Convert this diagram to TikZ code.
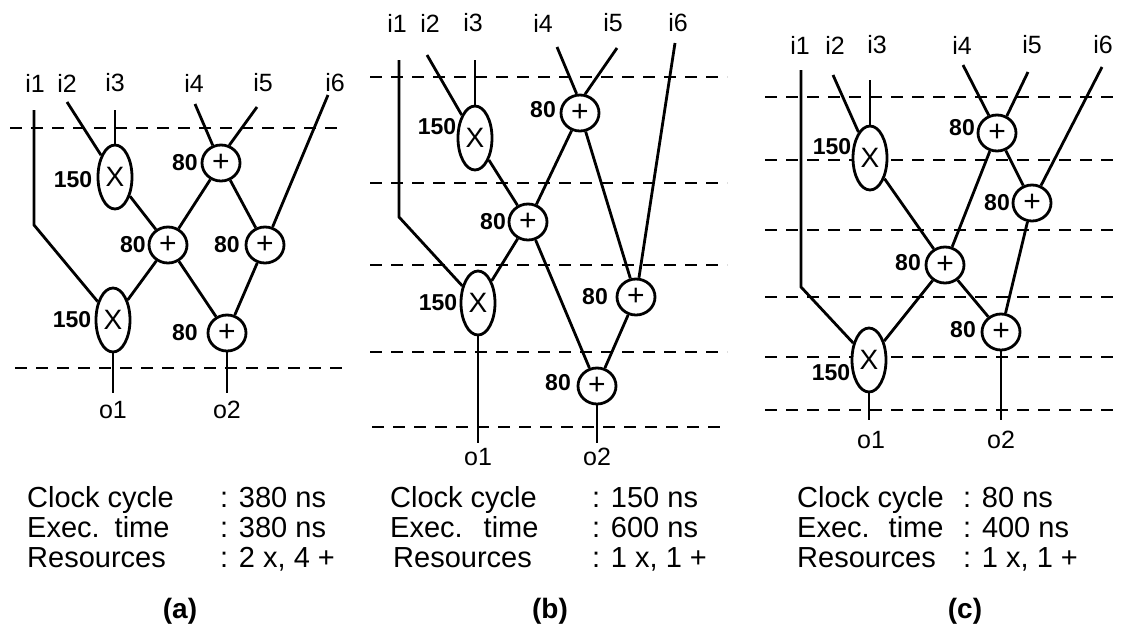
\documentclass[tikz,border=0pt]{standalone}
\usepackage{fontspec}
\setmainfont{Liberation Sans}
\usetikzlibrary{shapes.geometric}

\tikzset{
  mulop/.style={draw, fill=white, ellipse, line width=2.8pt, minimum width=34pt, minimum height=64pt, inner sep=0pt, font=\fontsize{28}{28}\selectfont},
  addop/.style={draw, fill=white, ellipse, line width=2.8pt, minimum width=38pt, minimum height=36pt, inner sep=0pt, font=\fontsize{30}{30}\selectfont},
  wire/.style={line width=2.8pt},
  clockline/.style={line width=2.8pt, dash pattern=on 12pt off 9pt},
  delay/.style={inner sep=0pt, font=\bfseries\fontsize{23}{23}\selectfont},
  port/.style={inner sep=0pt, font=\fontsize{25}{25}\selectfont},
  info/.style={anchor=base west, inner sep=0pt, font=\fontsize{29}{29}\selectfont},
  caption/.style={anchor=base, inner sep=0pt, font=\bfseries\fontsize{28}{28}\selectfont}
}

\begin{document}
\begin{tikzpicture}[x=1pt, y=-1pt, every node/.style={font=\fontsize{25}{25}\selectfont}]
    \useasboundingbox[fill=white] (0,0) rectangle (1121,632);

    % (a)
    \draw[clockline] (10,128) -- (343,128);
    \draw[clockline] (15,368) -- (343,368);
    \node[port] (ai1) at (35,83) {i1};
    \node[port] (ai2) at (67,83) {i2};
    \node[port] (ai3) at (115,83) {i3};
    \node[port] (ai4) at (194,83) {i4};
    \node[port] (ai5) at (263,83) {i5};
    \node[port] (ai6) at (335,83) {i6};
    \coordinate (ai1s) at (34,110);
    \coordinate (ai1k) at (34,225);
    \coordinate (ai2s) at (67,102);
    \coordinate (ai3s) at (115,110);
    \coordinate (ai4s) at (195,104);
    \coordinate (ai5s) at (257,107);
    \coordinate (ai6s) at (328,95);
    \node[mulop] (ax1) at (115,177) {X};
    \node[addop] (aa1) at (221,163) {+};
    \node[addop] (aa2) at (168,245) {+};
    \node[addop] (aa3) at (265,245) {+};
    \node[mulop] (ax2) at (113,320) {X};
    \node[addop] (aa4) at (227,333) {+};
    \node[delay] (ax1d) at (73,180) {150};
    \node[delay] (aa1d) at (185,163) {80};
    \node[delay] (aa2d) at (133,245) {80};
    \node[delay] (aa3d) at (227,245) {80};
    \node[delay] (ax2d) at (72,320) {150};
    \node[delay] (aa4d) at (185,333) {80};
    \coordinate (ao1e) at (113,393);
    \coordinate (ao2e) at (227,393);
    \node[port] (ao1) at (113,410) {o1};
    \node[port] (ao2) at (227,410) {o2};
    \draw[wire] (ai1s) -- (ai1k) -- (ax2);
    \draw[wire] (ai2s) -- (ax1);
    \draw[wire] (ai3s) -- (ax1.north);
    \draw[wire] (ai4s) -- (aa1.115);
    \draw[wire] (ai5s) -- (aa1.65);
    \draw[wire] (ai6s) -- (aa3);
    \draw[wire] (ax1) -- (aa2);
    \draw[wire] (aa1) -- (aa2);
    \draw[wire] (aa1) -- (aa3);
    \draw[wire] (aa2) -- (ax2);
    \draw[wire] (aa2) -- (aa4);
    \draw[wire] (aa3) -- (aa4);
    \draw[wire] (ax2.south) -- (ao1e);
    \draw[wire] (aa4.south) -- (ao2e);
    \node[info] (ar1) at (27,507) {\makebox[193pt][l]{Clock cycle}: 380 ns};
    \node[info] (ar2) at (27,537) {\makebox[193pt][l]{Exec.\hspace{15pt}time}: 380 ns};
    \node[info] (ar3) at (27,567) {\makebox[193pt][l]{Resources}: 2 x, 4 +};
    \node[caption] (acap) at (180,618) {(a)};

    % (b)
    \draw[clockline] (370,77) -- (727,77);
    \draw[clockline] (370,183) -- (727,183);
    \draw[clockline] (370,265) -- (727,265);
    \draw[clockline] (370,352) -- (727,352);
    \draw[clockline] (372,427) -- (727,427);
    \node[port] (bi1) at (397,23) {i1};
    \node[port] (bi2) at (430,23) {i2};
    \node[port] (bi3) at (473,23) {i3};
    \node[port] (bi4) at (543,23) {i4};
    \node[port] (bi5) at (613,23) {i5};
    \node[port] (bi6) at (678,23) {i6};
    \coordinate (bi1s) at (399,60);
    \coordinate (bi1k) at (399,217);
    \coordinate (bi2s) at (427,55);
    \coordinate (bi3s) at (475,60);
    \coordinate (bi4s) at (557,47);
    \coordinate (bi5s) at (617,48);
    \coordinate (bi6s) at (675,43);
    \node[mulop] (bx1) at (475,138) {X};
    \node[addop] (ba1) at (580,113) {+};
    \node[addop] (ba2) at (528,222) {+};
    \node[mulop] (bx2) at (478,303) {X};
    \node[addop] (ba3) at (636,297) {+};
    \node[addop] (ba4) at (597,386) {+};
    \node[delay] (bx1d) at (437,127) {150};
    \node[delay] (ba1d) at (543,110) {80};
    \node[delay] (ba2d) at (493,222) {80};
    \node[delay] (bx2d) at (438,303) {150};
    \node[delay] (ba3d) at (595,297) {80};
    \node[delay] (ba4d) at (558,383) {80};
    \coordinate (bo1e) at (478,443);
    \coordinate (bo2e) at (597,443);
    \node[port] (bo1) at (478,457) {o1};
    \node[port] (bo2) at (597,457) {o2};
    \draw[wire] (bi1s) -- (bi1k) -- (bx2);
    \draw[wire] (bi2s) -- (bx1);
    \draw[wire] (bi3s) -- (bx1.north);
    \draw[wire] (bi4s) -- (ba1.100);
    \draw[wire] (bi5s) -- (ba1.75);
    \draw[wire] (bi6s) -- (ba3);
    \draw[wire] (bx1) -- (ba2);
    \draw[wire] (ba1) -- (ba2);
    \draw[wire] (ba1) -- (ba3);
    \draw[wire] (ba2) -- (bx2);
    \draw[wire] (ba2) -- (ba4);
    \draw[wire] (ba3) -- (ba4);
    \draw[wire] (bx2.south) -- (bo1e);
    \draw[wire] (ba4.south) -- (bo2e);
    \node[info] (br1) at (390,507) {\makebox[202pt][l]{Clock cycle}: 150 ns};
    \node[info] (br2) at (390,537) {\makebox[202pt][l]{Exec.\hspace{21pt}time}: 600 ns};
    \node[info] (br3) at (393,567) {\makebox[199pt][l]{Resources}: 1 x, 1 +};
    \node[caption] (bcap) at (550,618) {(b)};

    % (c)
    \draw[clockline] (765,97) -- (1121,97);
    \draw[clockline] (765,160) -- (1121,160);
    \draw[clockline] (765,230) -- (1121,230);
    \draw[clockline] (765,297) -- (1121,297);
    \draw[clockline] (765,357) -- (1121,357);
    \draw[clockline] (765,410) -- (1121,410);
    \node[port] (ci1) at (800,45) {i1};
    \node[port] (ci2) at (835,45) {i2};
    \node[port] (ci3) at (877,45) {i3};
    \node[port] (ci4) at (962,45) {i4};
    \node[port] (ci5) at (1032,45) {i5};
    \node[port] (ci6) at (1103,45) {i6};
    \coordinate (ci1s) at (801,70);
    \coordinate (ci1k) at (801,287);
    \coordinate (ci2s) at (833,75);
    \coordinate (ci3s) at (870,80);
    \coordinate (ci4s) at (963,65);
    \coordinate (ci5s) at (1028,72);
    \coordinate (ci6s) at (1102,67);
    \node[mulop] (cx1) at (870,158) {X};
    \node[addop] (ca1) at (997,133) {+};
    \node[addop] (ca3) at (1032,203) {+};
    \node[addop] (ca2) at (945,265) {+};
    \node[addop] (ca4) at (1001,332) {+};
    \node[mulop] (cx2) at (869,360) {X};
    \node[delay] (cx1d) at (832,147) {150};
    \node[delay] (ca1d) at (962,128) {80};
    \node[delay] (ca3d) at (997,203) {80};
    \node[delay] (ca2d) at (908,263) {80};
    \node[delay] (ca4d) at (963,330) {80};
    \node[delay] (cx2d) at (831,373) {150};
    \coordinate (co1e) at (869,420);
    \coordinate (co2e) at (1001,420);
    \node[port] (co1) at (871,440) {o1};
    \node[port] (co2) at (1001,440) {o2};
    \draw[wire] (ci1s) -- (ci1k) -- (cx2);
    \draw[wire] (ci2s) -- (cx1);
    \draw[wire] (ci3s) -- (cx1.north);
    \draw[wire] (ci4s) -- (ca1.115);
    \draw[wire] (ci5s) -- (ca1.60);
    \draw[wire] (ci6s) -- (ca3);
    \draw[wire] (cx1) -- (ca2);
    \draw[wire] (ca1) -- (ca2);
    \draw[wire] (ca1) -- (ca3);
    \draw[wire] (ca3) -- (ca4);
    \draw[wire] (ca2) -- (cx2);
    \draw[wire] (ca2) -- (ca4);
    \draw[wire] (cx2.south) -- (co1e);
    \draw[wire] (ca4.south) -- (co2e);
    \node[info] (cr1) at (797,507) {\makebox[166pt][l]{Clock cycle}: 80 ns};
    \node[info] (cr2) at (797,537) {\makebox[166pt][l]{Exec.\hspace{19pt}time}: 400 ns};
    \node[info] (cr3) at (797,567) {\makebox[166pt][l]{Resources}: 1 x, 1 +};
    \node[caption] (ccap) at (965,618) {(c)};
  \end{tikzpicture}
\end{document}
